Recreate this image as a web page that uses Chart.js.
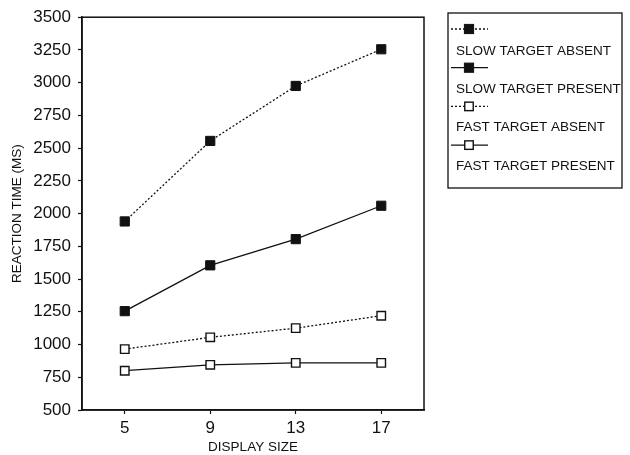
<!DOCTYPE html>
<html>
<head>
<meta charset="utf-8">
<script src="https://cdn.jsdelivr.net/npm/chart.js"></script>
<style>
  html, body { margin: 0; padding: 0; background: #fff; }
  #wrap { width: 630px; height: 455px; }
</style>
</head>
<body>
<div id="wrap"><canvas id="c" width="630" height="455"></canvas></div>
<script>
// display sizes on the x axis
const displaySizes = [5, 9, 13, 17];
const xTicks = [5, 9, 13, 17];
const yTicks = [500, 750, 1000, 1250, 1500, 1750, 2000, 2250, 2500, 2750, 3000, 3250, 3500];

// reaction times (ms)
const slowAbsent = [1940, 2555, 2975, 3255];
const slowPresent = [1255, 1605, 1805, 2060];
const fastAbsent = [965, 1055, 1125, 1220];
const fastPresent = [800, 845, 860, 860];

const seriesNames = ['SLOW TARGET ABSENT', 'SLOW TARGET PRESENT', 'FAST TARGET ABSENT', 'FAST TARGET PRESENT'];

const INK = '#111';
const FONT = "'Liberation Sans', Arial, sans-serif";

function series(label, values, dashed, filled) {
  return {
    label: label,
    data: values.map((v, i) => ({ x: displaySizes[i], y: v })),
    borderColor: INK,
    borderWidth: 1.3,
    borderDash: dashed ? [2, 2] : [],
    pointStyle: 'rect',
    pointRadius: filled ? 6.5 : 6,
    pointBackgroundColor: filled ? INK : '#fff',
    pointBorderColor: INK,
    pointBorderWidth: filled ? 1 : 1.4,
    fill: false,
    tension: 0
  };
}

// box around plot + hand drawn legend box like the original
const framePlugin = {
  id: 'frame',
  afterDatasetsDraw(chart) {
    const { ctx, chartArea: a } = chart;
    ctx.save();
    ctx.strokeStyle = INK;
    ctx.lineWidth = 1.5;
    ctx.setLineDash([]);
    ctx.strokeRect(a.left, a.top, a.right - a.left, a.bottom - a.top);

    // legend
    ctx.lineWidth = 1.3;
    ctx.strokeRect(448, 13, 174, 175);
    ctx.font = '13.5px ' + FONT;
    ctx.fillStyle = INK;
    ctx.textBaseline = 'middle';
    chart.data.datasets.forEach((ds, i) => {
      const sy = 29 + i * 38.7;
      const ty = 51 + i * 38.3;
      ctx.beginPath();
      ctx.setLineDash(ds.borderDash);
      ctx.lineWidth = 1.3;
      ctx.moveTo(451, sy);
      ctx.lineTo(488, sy);
      ctx.stroke();
      ctx.setLineDash([]);
      const s = ds.pointRadius * Math.SQRT1_2;
      ctx.fillStyle = ds.pointBackgroundColor;
      ctx.fillRect(469 - s, sy - s, 2 * s, 2 * s);
      ctx.lineWidth = ds.pointBorderWidth;
      ctx.strokeRect(469 - s, sy - s, 2 * s, 2 * s);
      ctx.fillStyle = INK;
      ctx.fillText(seriesNames[i], 456, ty);
    });
    ctx.restore();
  }
};

new Chart(document.getElementById('c'), {
  type: 'line',
  data: {
    datasets: [
      series(seriesNames[0], slowAbsent, true, true),
      series(seriesNames[1], slowPresent, false, true),
      series(seriesNames[2], fastAbsent, true, false),
      series(seriesNames[3], fastPresent, false, false)
    ]
  },
  options: {
    responsive: false,
    animation: false,
    layout: { padding: { left: 0, top: 14, right: 206, bottom: 0 } },
    plugins: { legend: { display: false }, tooltip: { enabled: false } },
    scales: {
      x: {
        type: 'linear',
        min: 3,
        max: 19,
        afterBuildTicks(scale) { scale.ticks = xTicks.map(v => ({ value: v })); },
        afterFit(scale) { scale.height = 45; },
        grid: { drawOnChartArea: false, drawTicks: true, tickLength: 4, tickColor: INK, tickWidth: 1.2 },
        border: { display: true, color: INK, width: 1.5 },
        ticks: { color: INK, font: { family: FONT, size: 17 }, padding: 4, maxRotation: 0, callback: v => String(v) },
        title: { display: true, text: 'DISPLAY SIZE', color: INK, font: { family: FONT, size: 13.5 }, padding: 0 }
      },
      y: {
        min: 500,
        max: 3500,
        afterBuildTicks(scale) { scale.ticks = yTicks.map(v => ({ value: v })); },
        afterFit(scale) { scale.width = 82; },
        grid: { drawOnChartArea: false, drawTicks: true, tickLength: 4, tickColor: INK, tickWidth: 1.2 },
        border: { display: true, color: INK, width: 1.5 },
        ticks: { color: INK, font: { family: FONT, size: 17 }, padding: 7, callback: v => String(v) },
        title: { display: true, text: 'REACTION TIME (MS)', color: INK, font: { family: FONT, size: 13.5 }, padding: { top: 9, bottom: 0 } }
      }
    }
  },
  plugins: [framePlugin]
});
</script>
</body>
</html>
